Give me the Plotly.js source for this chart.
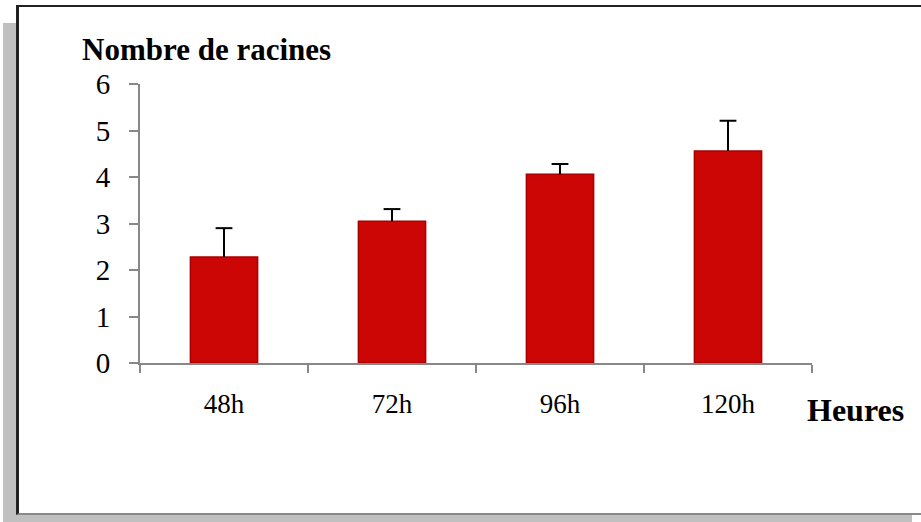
<!DOCTYPE html>
<html>
<head>
<meta charset="utf-8">
<script src="https://cdn.plot.ly/plotly-3.0.1.min.js"></script>
<style>
  html, body { margin:0; padding:0; width:921px; height:522px; overflow:hidden; background:#fff; }
  #shadow { position:absolute; left:3px; top:23px; width:909px; height:499px; background:#c0c0c0; }
  #frame { position:absolute; left:16px; top:5px; width:930px; height:506px; background:#fff;
           border-left:3px solid #222; border-top:2px solid #222; border-bottom:2px solid #8a8a8a; }
  #chart { position:absolute; left:0; top:0; width:921px; height:522px; }
</style>
</head>
<body>
<div id="shadow"></div>
<div id="frame"></div>
<div id="chart"></div>
<script>
const categories = ["48h", "72h", "96h", "120h"];
const values = [2.28, 3.05, 4.06, 4.56];
const errorsUp = [0.62, 0.26, 0.22, 0.65];
const yTicks = [0, 1, 2, 3, 4, 5, 6];

const bars = {
  type: "bar",
  x: categories,
  y: values,
  width: 0.4,
  marker: { color: "#cc0505", line: { color: "#a80000", width: 1.5 } },
  hoverinfo: "none"
};

// upward-only error bars: stem from bar top to value + error, cap at the top
const stemX = [], stemY = [];
categories.forEach((c, i) => { stemX.push(c, c, null); stemY.push(values[i], values[i] + errorsUp[i], null); });
const stems = {
  type: "scatter", mode: "lines", x: stemX, y: stemY,
  line: { color: "#000", width: 2 }, hoverinfo: "none"
};
const caps = {
  type: "scatter", mode: "markers", x: categories,
  y: values.map((v, i) => v + errorsUp[i]),
  marker: { symbol: "line-ew", size: 12, line: { color: "#000", width: 2 } },
  hoverinfo: "none"
};

const serif = "Liberation Serif, Times New Roman, serif";
const layout = {
  width: 921, height: 522,
  margin: { l: 140, r: 109, t: 84, b: 159 },
  paper_bgcolor: "rgba(0,0,0,0)",
  plot_bgcolor: "rgba(0,0,0,0)",
  showlegend: false,
  xaxis: {
    type: "category",
    range: [-0.5, 3.5],
    tickson: "boundaries",
    ticks: "outside", ticklen: 8, tickcolor: "#888", tickwidth: 2,
    showline: true, linecolor: "#888", linewidth: 2,
    showgrid: false, zeroline: false,
    tickfont: { family: serif, size: 27, color: "#000" },
    ticklabelstandoff: 16
  },
  yaxis: {
    range: [0, 6],
    tickvals: yTicks,
    ticks: "outside", ticklen: 9, tickcolor: "#888", tickwidth: 2,
    showline: true, linecolor: "#888", linewidth: 2,
    showgrid: false, zeroline: false,
    tickfont: { family: serif, size: 29, color: "#000" },
    ticklabelstandoff: 13
  },
  annotations: [
    { text: "<b>Nombre de racines</b>", xref: "paper", yref: "paper",
      x: -60/672, xanchor: "left", y: 1 + 35/279, yanchor: "middle", showarrow: false,
      font: { family: serif, size: 31, color: "#000" } },
    { text: "<b>Heures</b>", xref: "paper", yref: "paper",
      x: 1 + (855-812)/672, xanchor: "center", y: -(410-363)/279, yanchor: "middle", showarrow: false,
      font: { family: serif, size: 32, color: "#000" } }
  ]
};

Plotly.newPlot("chart", [bars, stems, caps], layout, { displayModeBar: false, staticPlot: true });
</script>
</body>
</html>
